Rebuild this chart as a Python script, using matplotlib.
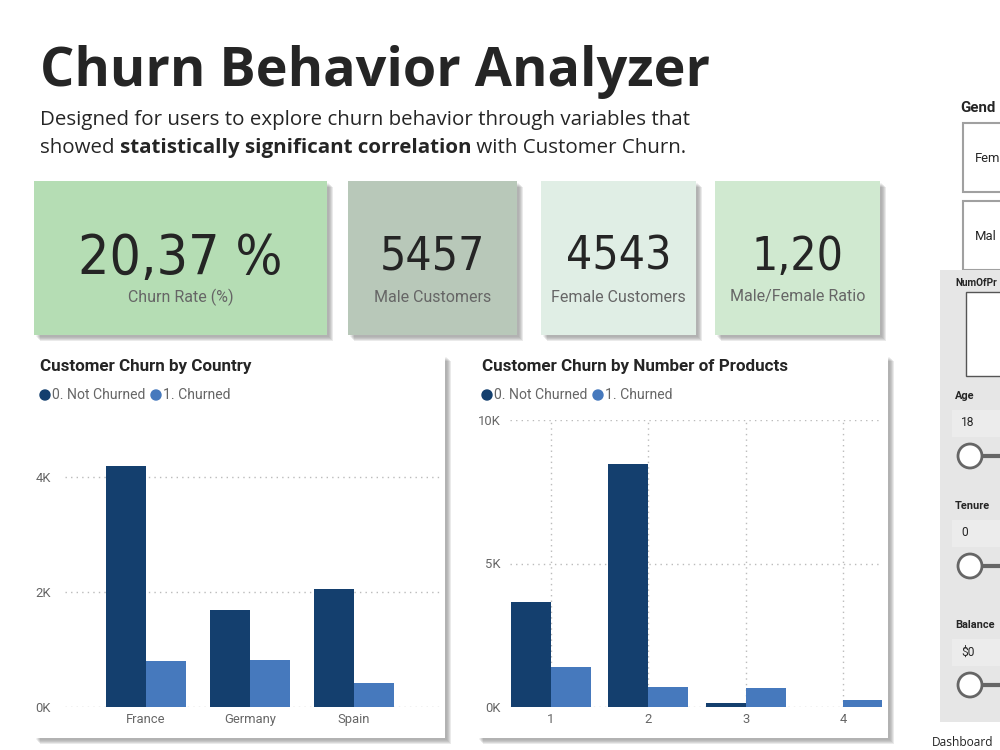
import matplotlib
matplotlib.use("Agg")
import matplotlib.pyplot as plt
from matplotlib import font_manager as fm
from matplotlib.patches import Rectangle, Circle
from matplotlib.ticker import FuncFormatter

# data
countries = ["France", "Germany", "Spain"]
country_not_churned = [4204, 1695, 2064]
country_churned = [810, 814, 413]

products = [1, 2, 3, 4]
products_not_churned = [3675, 8484, 138, 0]
products_churned = [1409, 696, 660, 240]

kpi_values = ["20,37 %", "5457", "4543", "1,20"]
kpi_labels = ["Churn Rate (%)", "Male Customers", "Female Customers", "Male/Female Ratio"]
kpi_colors = ["#b5ddb4", "#b8c8b9", "#e0eee5", "#d0e9d0"]

DARK = "#143f6e"
LIGHT = "#4679bd"
TXT = "#252525"
GREY_TXT = "#666666"

# narrow regular face for the KPI numbers (DIN-like look)
narrow = None
for f in fm.fontManager.ttflist:
    if (f.stretch in ("condensed", "semi-condensed") or "Narrow" in f.name) \
            and f.weight in (400, "normal", "regular", "book") and f.style == "normal":
        narrow = f
        break

W, H = 1000, 750
fig = plt.figure(figsize=(10, 7.5), dpi=100)
fig.patch.set_facecolor("white")

bg = fig.add_axes([0, 0, 1, 1], zorder=0)
bg.set_xlim(0, W)
bg.set_ylim(H, 0)
bg.axis("off")


def px(size):
    return size / 1.389


def card(x0, y0, x1, y1, color, shadow=6):
    for i, a in enumerate([0.10, 0.10, 0.10, 0.08, 0.06]):
        off = shadow - i
        bg.add_patch(Rectangle((x0 + off, y0 + off), x1 - x0, y1 - y0,
                               color="#333333", alpha=a, lw=0))
    bg.add_patch(Rectangle((x0, y0), x1 - x0, y1 - y0, color=color, lw=0))


def ax_rect(x0, y0, x1, y1):
    return [x0 / W, 1 - y1 / H, (x1 - x0) / W, (y1 - y0) / H]


bg.text(40, 72, "Churn Behavior Analyzer", fontsize=px(54), fontweight="bold",
        family="Open Sans", color=TXT, va="center", ha="left")
bg.text(40, 120, "Designed for users to explore churn behavior through variables that",
        fontsize=px(20.5), family="Open Sans", color=TXT, va="center")

renderer = fig.canvas.get_renderer()
xpos = 40
for piece, weight in [("showed ", "normal"), ("statistically significant correlation", "bold"),
                      (" with Customer Churn.", "normal")]:
    t = bg.text(xpos, 148, piece, fontsize=px(20.5), family="Open Sans",
                fontweight=weight, color=TXT, va="center")
    xpos += t.get_window_extent(renderer=renderer).width

kpi_boxes = [(34, 181, 327, 335), (348, 181, 517, 335), (541, 181, 696, 335), (715, 181, 880, 335)]
for i, (x0, y0, x1, y1) in enumerate(kpi_boxes):
    card(x0, y0, x1, y1, kpi_colors[i])
    cx = (x0 + x1) / 2
    big, base = (55, 274) if i == 0 else (46, 270)
    kw = dict(fname=narrow.fname) if narrow else dict(family="DejaVu Sans")
    bg.text(cx, base, kpi_values[i], fontproperties=fm.FontProperties(size=px(big), **kw),
            color=TXT, ha="center", va="baseline")
    bg.text(cx, 297, kpi_labels[i], fontsize=px(16), family="Roboto",
            color=GREY_TXT, ha="center", va="center")

card(34, 355, 445, 738, "white", shadow=6)
card(477, 355, 888, 738, "white", shadow=6)


def legend_and_title(x, title):
    bg.text(x + 6, 366, title, fontsize=px(17), fontweight="bold", family="Roboto",
            color=TXT, va="center")
    bg.add_patch(Circle((x + 11, 395), 5, color=DARK))
    bg.text(x + 18, 395, "0. Not Churned", fontsize=px(14), family="Roboto",
            color=GREY_TXT, va="center")
    bg.add_patch(Circle((x + 122, 395), 5, color=LIGHT))
    bg.text(x + 129, 395, "1. Churned", fontsize=px(14), family="Roboto",
            color=GREY_TXT, va="center")


legend_and_title(34, "Customer Churn by Country")
legend_and_title(476, "Customer Churn by Number of Products")

kfmt = FuncFormatter(lambda v, p: f"{v / 1000:.0f}K")


def style_axes(ax):
    ax.set_facecolor("none")
    for s in ax.spines.values():
        s.set_visible(False)
    ax.tick_params(length=0, labelsize=px(13), labelcolor=GREY_TXT)
    ax.yaxis.set_major_formatter(kfmt)
    ax.grid(axis="y", linestyle=(0, (1, 3)), color="#bbbbbb", lw=1)
    ax.set_axisbelow(True)
    for lab in ax.get_xticklabels() + ax.get_yticklabels():
        lab.set_family("Roboto")


ax1 = fig.add_axes(ax_rect(65, 420, 440, 707), zorder=2)
w1 = 0.385
xs = list(range(len(countries)))
ax1.bar([x - w1 / 2 for x in xs], country_not_churned, w1, color=DARK)
ax1.bar([x + w1 / 2 for x in xs], country_churned, w1, color=LIGHT)
ax1.set_xlim(-0.78, 2.83)
ax1.set_ylim(0, 5000)
ax1.set_yticks([0, 2000, 4000])
ax1.set_xticks(xs)
ax1.set_xticklabels(countries)
style_axes(ax1)
ax1.tick_params(axis="y", pad=10)
ax1.tick_params(axis="x", pad=4)

ax2 = fig.add_axes(ax_rect(510, 420, 882, 707), zorder=2)
w2 = 0.41
ax2.bar([p - w2 / 2 for p in products], products_not_churned, w2, color=DARK)
ax2.bar([p + w2 / 2 for p in products], products_churned, w2, color=LIGHT)
ax2.set_xlim(0.58, 4.40)
ax2.set_ylim(0, 10000)
ax2.set_yticks([0, 5000, 10000])
ax2.set_xticks(products)
style_axes(ax2)
ax2.grid(axis="x", linestyle=(0, (1, 3)), color="#bbbbbb", lw=1)
ax2.tick_params(axis="y", pad=7)
ax2.tick_params(axis="x", pad=4)

# right-side slicer panel, cut off by the page edge as in the source
card(953, 95, 1010, 276, "white", shadow=6)
bg.text(960, 108, "Gend", fontsize=px(15), fontweight="bold", family="Roboto",
        color=TXT, va="center")
for y0, lab in [(123, "Fem"), (201, "Mal")]:
    bg.add_patch(Rectangle((963, y0), 60, 69, facecolor="white", edgecolor="#a0a0a0", lw=1.5))
    bg.text(975, y0 + 35, lab, fontsize=px(13), family="Roboto", color=TXT, va="center")

bg.add_patch(Rectangle((940, 270), 70, 452, color="#e6e6e6", lw=0))
bg.text(955, 283, "NumOfPr", fontsize=px(10), fontweight="bold", family="Roboto",
        color=TXT, va="center")
bg.add_patch(Rectangle((966, 292), 50, 84, facecolor="white", edgecolor="#555555", lw=1))
slider_names = ["Age", "Tenure", "Balance"]
slider_starts = ["18", "0", "$0"]
slider_rows = [396, 506, 625]
for name, start, y in zip(slider_names, slider_starts, slider_rows):
    bg.text(955, y, name, fontsize=px(11), fontweight="bold", family="Roboto",
            color=TXT, va="center")
    bg.add_patch(Rectangle((952, y + 14), 60, 27, color="#ececec", lw=0))
    bg.text(961, y + 27, start, fontsize=px(12), family="Roboto", color=TXT, va="center")
    bg.plot([982, 1000], [y + 60, y + 60], color="#666666", lw=3, solid_capstyle="butt")
    bg.add_patch(Circle((970, y + 60), 12, facecolor="white", edgecolor="#666666", lw=2))

bg.text(932, 742, "Dashboard", fontsize=px(12), family="Open Sans", color=TXT, va="center")

fig.savefig("out.png", dpi=100, facecolor="white")
